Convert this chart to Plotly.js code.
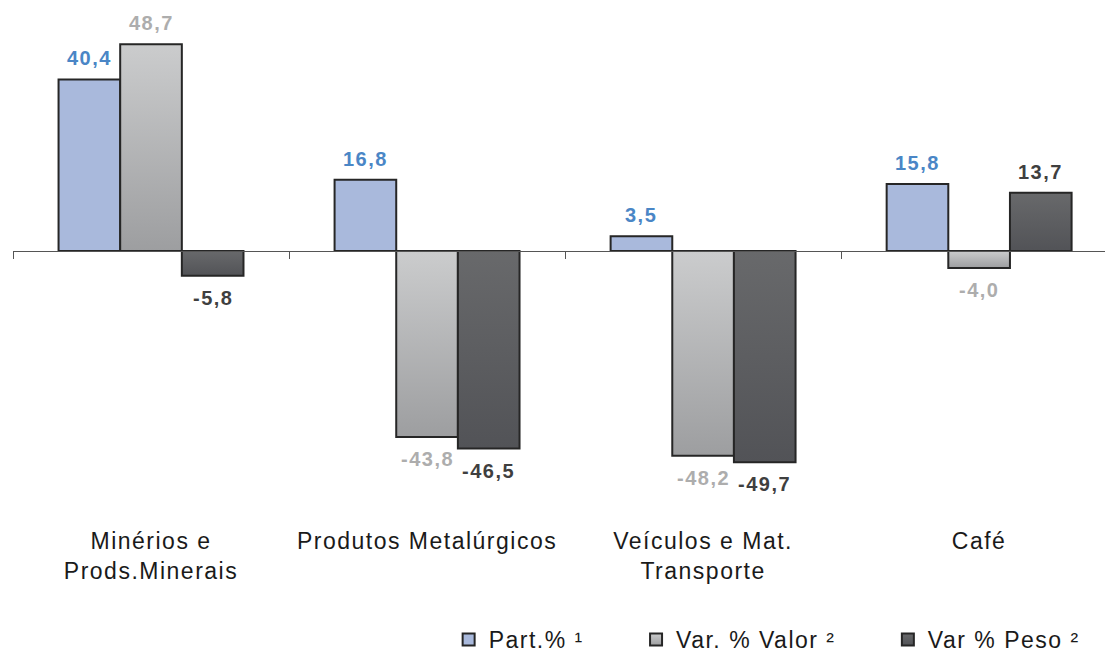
<!DOCTYPE html>
<html>
<head>
<meta charset="utf-8">
<script src="https://cdn.plot.ly/plotly-3.0.1.min.js"></script>
<style>
  html, body { margin: 0; padding: 0; background: #ffffff; }
  #chart { width: 1105px; height: 661px; }
  svg text { letter-spacing: 1.5px; }
</style>
</head>
<body>
<div id="chart"></div>
<script>
// Export groups and the three indicators shown for each
const categories = ['Minérios e<br>Prods.Minerais', 'Produtos Metalúrgicos', 'Veículos e Mat.<br>Transporte', 'Café'];
const seriesNames = ['Part.% ¹', 'Var. % Valor ²', 'Var % Peso ²'];
const partPct  = [40.4, 16.8, 3.5, 15.8];
const varValor = [48.7, -43.8, -48.2, -4.0];
const varPeso  = [-5.8, -46.5, -49.7, 13.7];

const series = [partPct, varValor, varPeso];
const barColors = ['#a9b9dc', '#b4b5b7', '#5d5e61'];
const labelColors = ['#4a86c6', '#adadad', '#3f3f3f'];
// top-to-bottom shading for the grey bars (none for the blue one)
const barShades = [null, ['#cbcccd', '#9d9ea0'], ['#68696b', '#525357']];

const BARGAP = 0.33;
const Y_RANGE = [-64.5, 59.1];
const X_RANGE = [-0.5, 3.456];
const FONT = 'Liberation Sans, Arial, Helvetica, sans-serif';
// spacing between legend entries (not needed after the last one)
const LEGEND_PAD = '\u00a0'.repeat(6);

const fmt = v => v.toFixed(1).replace('.', ',');

const traces = series.map((vals, k) => ({
  type: 'bar',
  name: seriesNames[k] + (k < series.length - 1 ? LEGEND_PAD : ''),
  x: categories,
  y: vals,
  marker: { color: barColors[k], line: { color: '#262626', width: 2 } },
  hoverinfo: 'skip'
}));

// value labels, placed over each bar of the group
const slot = (1 - BARGAP) / series.length;
const annotations = [];
series.forEach((vals, k) => {
  vals.forEach((v, i) => {
    annotations.push({
      xref: 'x', yref: 'y',
      x: i + (k - (series.length - 1) / 2) * slot,
      y: v,
      text: fmt(v),
      showarrow: false,
      yanchor: 'middle',
      yshift: v >= 0 ? 21 : -22,
      font: { family: FONT, size: 20, weight: 'bold', color: labelColors[k] }
    });
  });
});

// the category axis crosses the value axis at zero
const zeroPos = -Y_RANGE[0] / (Y_RANGE[1] - Y_RANGE[0]);

const layout = {
  width: 1105, height: 661,
  margin: { l: 13, r: 0, t: 0, b: 136 },
  paper_bgcolor: '#ffffff', plot_bgcolor: '#ffffff',
  barmode: 'group', bargap: BARGAP, bargroupgap: 0,
  font: { family: FONT, color: '#1a1a1a' },
  xaxis: {
    type: 'category', range: X_RANGE,
    anchor: 'free', position: zeroPos, automargin: false,
    showline: true, linecolor: '#555555', linewidth: 1,
    ticks: 'outside', tickson: 'boundaries', ticklen: 7, tickwidth: 1, tickcolor: '#555555',
    ticklabelstandoff: 269,
    showgrid: false, zeroline: false,
    tickfont: { family: FONT, size: 23, color: '#1a1a1a' },
    fixedrange: true
  },
  yaxis: {
    range: Y_RANGE, visible: false, showgrid: false, zeroline: false, fixedrange: true
  },
  showlegend: true,
  legend: {
    orientation: 'h', xref: 'container', yref: 'container',
    x: 0.406, xanchor: 'left', y: 0, yanchor: 'bottom',
    font: { family: FONT, size: 23, color: '#1a1a1a' },
    bgcolor: 'rgba(0,0,0,0)', borderwidth: 0
  },
  annotations: annotations
};

function paintShades(gd) {
  const svg = gd.querySelector('svg.main-svg');
  if (!svg) return;
  const ns = 'http://www.w3.org/2000/svg';
  let defs = svg.querySelector('defs');
  if (!defs) { defs = document.createElementNS(ns, 'defs'); svg.insertBefore(defs, svg.firstChild); }
  barShades.forEach((stops, k) => {
    if (!stops) return;
    const id = 'barshade' + k;
    if (svg.querySelector('#' + id)) return;
    const lg = document.createElementNS(ns, 'linearGradient');
    lg.setAttribute('id', id);
    lg.setAttribute('x1', '0'); lg.setAttribute('y1', '0');
    lg.setAttribute('x2', '0'); lg.setAttribute('y2', '1');
    stops.forEach((c, j) => {
      const s = document.createElementNS(ns, 'stop');
      s.setAttribute('offset', j ? '1' : '0');
      s.setAttribute('stop-color', c);
      lg.appendChild(s);
    });
    defs.appendChild(lg);
  });
  gd.querySelectorAll('.barlayer .trace').forEach((tr, k) => {
    if (!barShades[k]) return;
    tr.querySelectorAll('.point path').forEach(p => { p.style.fill = 'url(#barshade' + k + ')'; });
  });
  gd.querySelectorAll('.legend .traces').forEach((tr, k) => {
    if (!barShades[k]) return;
    tr.querySelectorAll('.legendpoints path').forEach(p => { p.style.fill = 'url(#barshade' + k + ')'; });
  });
}

Plotly.newPlot('chart', traces, layout, { displayModeBar: false, staticPlot: true }).then(gd => {
  paintShades(gd);
  gd.on('plotly_afterplot', () => paintShades(gd));
});
</script>
</body>
</html>
